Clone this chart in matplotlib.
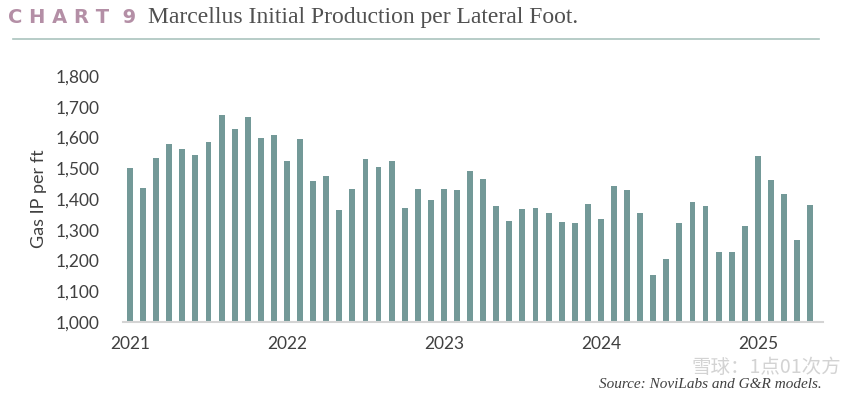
import numpy as np
import matplotlib.pyplot as plt

# monthly Marcellus gas IP per lateral foot, Jan 2021 - May 2025
ip_2021 = [1500, 1435, 1532, 1578, 1562, 1544, 1585, 1672, 1629, 1666, 1600, 1609]
ip_2022 = [1524, 1594, 1457, 1474, 1365, 1432, 1530, 1503, 1524, 1370, 1434, 1396]
ip_2023 = [1434, 1428, 1490, 1465, 1378, 1329, 1366, 1372, 1356, 1326, 1322, 1385]
ip_2024 = [1336, 1441, 1428, 1353, 1153, 1206, 1323, 1389, 1376, 1229, 1229, 1313]
ip_2025 = [1539, 1461, 1415, 1268, 1382]
years = ['2021', '2022', '2023', '2024', '2025']

values = ip_2021 + ip_2022 + ip_2023 + ip_2024 + ip_2025
x = np.arange(len(values))

fig = plt.figure(figsize=(8.65, 3.96), dpi=100)
ax = fig.add_axes([0.142, 0.187, 0.809, 0.621])
ax.bar(x, values, width=0.45, color='#739998')
ax.set_ylim(1000, 1800)
ax.set_xlim(-0.55, len(values) - 0.05)
ax.set_yticks(np.arange(1000, 1801, 100))
ax.set_yticklabels(['{:,}'.format(v) for v in range(1000, 1801, 100)],
                   fontsize=12.5, color='#404040', family='Lato')
ax.set_xticks([0, 12, 24, 36, 48])
ax.set_xticklabels(years, fontsize=12.5, color='#404040', family='Lato')
ax.tick_params(axis='y', length=0, pad=17)
ax.tick_params(axis='x', length=0, pad=10)
for s in ['top', 'right', 'left']:
    ax.spines[s].set_visible(False)
ax.spines['bottom'].set_color('#d4d4d4')
ax.spines['bottom'].set_linewidth(1.5)
ax.set_ylabel('Gas IP per ft', fontsize=13, color='#404040', family='Lato', labelpad=6)

# header
fig.text(0.009, 0.955, 'C H A R T  9', fontsize=14, fontweight='heavy',
         color='#b48fa6', family='DejaVu Sans', va='center')
fig.text(0.171, 0.955, 'Marcellus Initial Production per Lateral Foot.', fontsize=17,
         color='#505050', family='Liberation Serif', va='center')
fig.add_artist(plt.Line2D([0.015, 0.947], [0.902, 0.902], color='#aac3be', lw=1.2))

fig.text(0.95, 0.028, 'Source: NoviLabs and G&R models.', fontsize=11, style='italic',
         color='#404040', family='Liberation Serif', ha='right', va='center')
fig.text(0.972, 0.073, '雪球：1点01次方', fontsize=14, color='#c8c8c8', alpha=0.8,
         family=['Noto Sans CJK SC', 'DejaVu Sans'], ha='right', va='center')

plt.savefig('out.png', dpi=100)
